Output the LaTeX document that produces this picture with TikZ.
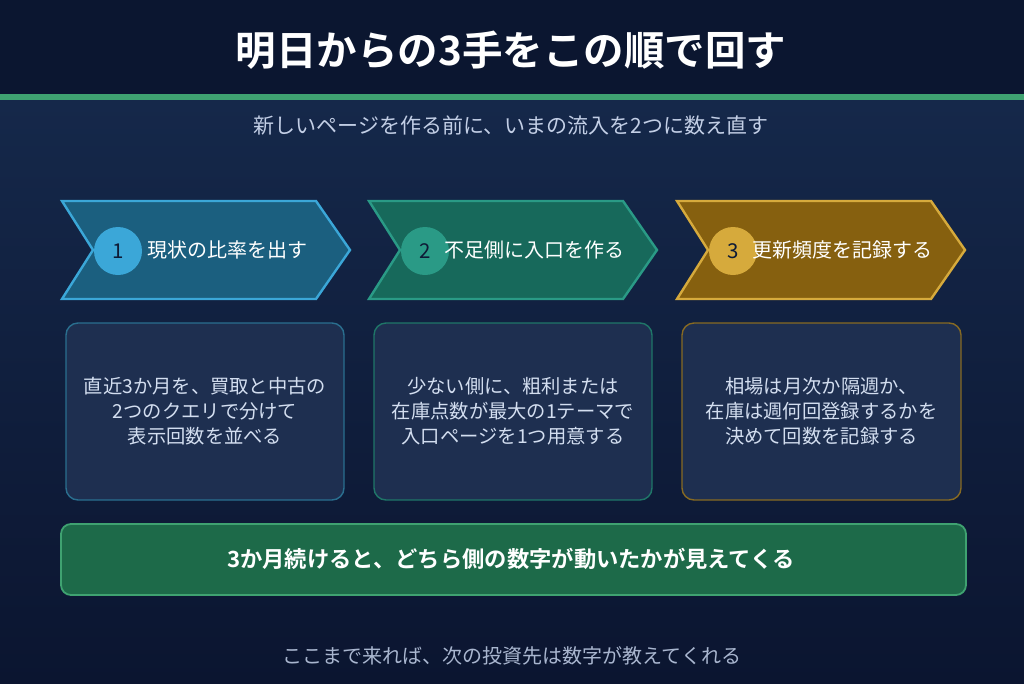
\documentclass[tikz,border=0pt]{standalone}
\usepackage{fontspec}
\setmainfont{Noto Sans CJK JP}[BoldFont={Noto Sans CJK JP Bold}]
\definecolor{hdr}{HTML}{0B1630}
\definecolor{grn}{HTML}{3FA271}
\definecolor{bodytop}{HTML}{15284A}
\definecolor{bodybot}{HTML}{0B1530}
\definecolor{subt}{HTML}{C3CFE6}
\definecolor{cfA}{HTML}{1B5F7F}
\definecolor{csA}{HTML}{3BA7D8}
\definecolor{cfB}{HTML}{17695B}
\definecolor{csB}{HTML}{2A9A86}
\definecolor{cfC}{HTML}{86600F}
\definecolor{csC}{HTML}{D6AA3C}
\definecolor{boxf}{HTML}{1E2F50}
\definecolor{bsA}{HTML}{2A6F8F}
\definecolor{bsB}{HTML}{1F7668}
\definecolor{bsC}{HTML}{876A22}
\definecolor{boxt}{HTML}{D3DEF0}
\definecolor{barf}{HTML}{1D6A49}
\definecolor{bott}{HTML}{A9B6CF}
\definecolor{numc}{HTML}{0E1B36}
\tikzset{
  chev/.style={line width=2.4pt, line join=miter},
  numcirc/.style={circle, minimum size=48pt, inner sep=0pt, font=\fontsize{20.5}{21}\selectfont, text=numc},
  chevlabel/.style={text=white, font=\fontsize{20}{22}\selectfont, inner sep=0pt},
  infobox/.style={draw, line width=1.4pt, fill=boxf, rounded corners=12pt},
  boxtext/.style={text=boxt, align=center, font=\fontsize{19.3}{25}\selectfont, inner sep=0pt},
}
\begin{document}
\begin{tikzpicture}[x=1pt,y=-1pt]
\useasboundingbox (0,0) rectangle (1024,683);
% background
\fill[hdr] (0,0) rectangle (1024,94);
\shade[top color=bodytop, bottom color=bodybot] (0,100) rectangle (1024,683);
\fill[grn] (0,94) rectangle (1024,100);
% title
\node[text=white, font=\bfseries\fontsize{40.5}{45}\selectfont, inner sep=0pt] (title) at (511,50) {明日からの3手をこの順で回す};
\node[text=subt, font=\fontsize{21}{23}\selectfont, inner sep=0pt] (subtitle) at (511,126) {新しいページを作る前に、いまの流入を2つに数え直す};
% chevrons
\foreach \x/\f/\s/\n/\lab [count=\i] in {62/cfA/csA/1/現状の比率を出す, 369/cfB/csB/2/不足側に入口を作る, 677/cfC/csC/3/更新頻度を記録する}{
  \draw[chev, draw=\s, fill=\f] (\x,201) -- (\x+254,201) -- (\x+288,250) -- (\x+254,299) -- (\x,299) -- (\x+31,250) -- cycle;
  \node[numcirc, fill=\s] (num\i) at (\x+56,251) {\n};
  \node[chevlabel] (step\i) at (\x+165,250) {\lab};
}
% boxes
\draw[infobox, draw=bsA] (66,323) rectangle (344,500);
\draw[infobox, draw=bsB] (374,323) rectangle (652,500);
\draw[infobox, draw=bsC] (682,323) rectangle (961,500);
\node[boxtext] (box1) at (205,411) {直近3か月を、買取と中古の\\2つのクエリで分けて\\表示回数を並べる};
\node[boxtext] (box2) at (513,411) {少ない側に、粗利または\\在庫点数が最大の1テーマで\\入口ページを1つ用意する};
\node[boxtext] (box3) at (821.5,411) {相場は月次か隔週か、\\在庫は週何回登録するかを\\決めて回数を記録する};
% bottom bar
\draw[draw=grn, line width=1.8pt, fill=barf, rounded corners=10pt] (61,524) rectangle (966,595);
\node[text=white, font=\bfseries\fontsize{22.3}{24}\selectfont, inner sep=0pt] (summary) at (511,559) {3か月続けると、どちら側の数字が動いたかが見えてくる};
\node[text=bott, font=\fontsize{20}{22}\selectfont, inner sep=0pt] (footer) at (512,656) {ここまで来れば、次の投資先は数字が教えてくれる};
\end{tikzpicture}
\end{document}
